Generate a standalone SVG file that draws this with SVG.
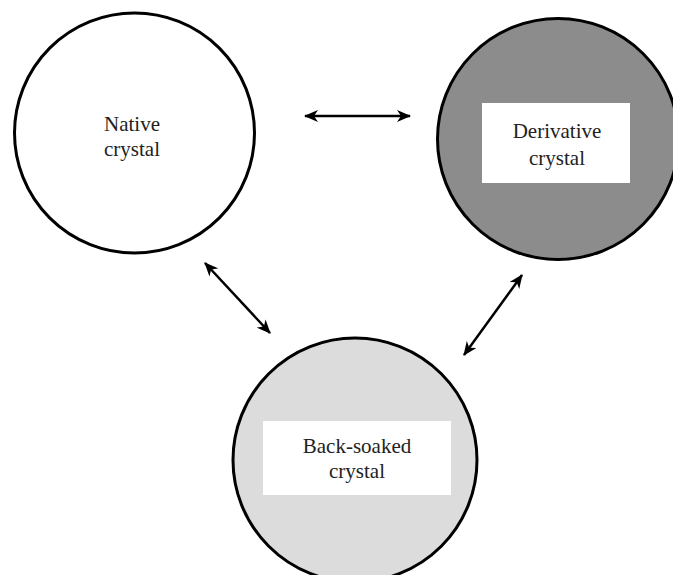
<svg xmlns="http://www.w3.org/2000/svg" width="673" height="575" viewBox="0 0 673 575">
<defs>
<marker id="ah" viewBox="0 0 14 12" refX="13" refY="6" markerWidth="14" markerHeight="12" markerUnits="userSpaceOnUse" orient="auto-start-reverse">
<path d="M0,0 L14,6 L0,12 L4,6 Z" fill="#000"/>
</marker>
<style>
.c{stroke:#000;stroke-width:3}
.t{font-family:"Liberation Serif","Times New Roman",serif;font-size:21px;fill:#222;text-anchor:middle}
.a{stroke:#000;stroke-width:2.5;fill:none;marker-start:url(#ah);marker-end:url(#ah)}
</style>
</defs>
<rect width="673" height="575" fill="#fff"/>
<g id="native">
<circle class="c" cx="134.5" cy="133" r="120" fill="#fff"/>
<text class="t" x="132" y="131">Native</text>
<text class="t" x="132" y="156">crystal</text>
</g>
<g id="derivative">
<circle class="c" cx="558" cy="139" r="120.5" fill="#8c8c8c"/>
<rect x="482" y="103" width="148" height="80" fill="#fff"/>
<text class="t" x="557" y="138">Derivative</text>
<text class="t" x="557" y="165">crystal</text>
</g>
<g id="backsoaked">
<circle class="c" cx="355" cy="460" r="122" fill="#dcdcdc"/>
<rect x="263" y="421" width="188" height="74" fill="#fff"/>
<text class="t" x="357" y="453">Back-soaked</text>
<text class="t" x="357" y="478">crystal</text>
</g>
<g id="connectors">
<line class="a" x1="305" y1="116" x2="410" y2="116"/>
<line class="a" x1="205" y1="263" x2="270" y2="333"/>
<line class="a" x1="522" y1="275" x2="464" y2="355"/>
</g>
</svg>
